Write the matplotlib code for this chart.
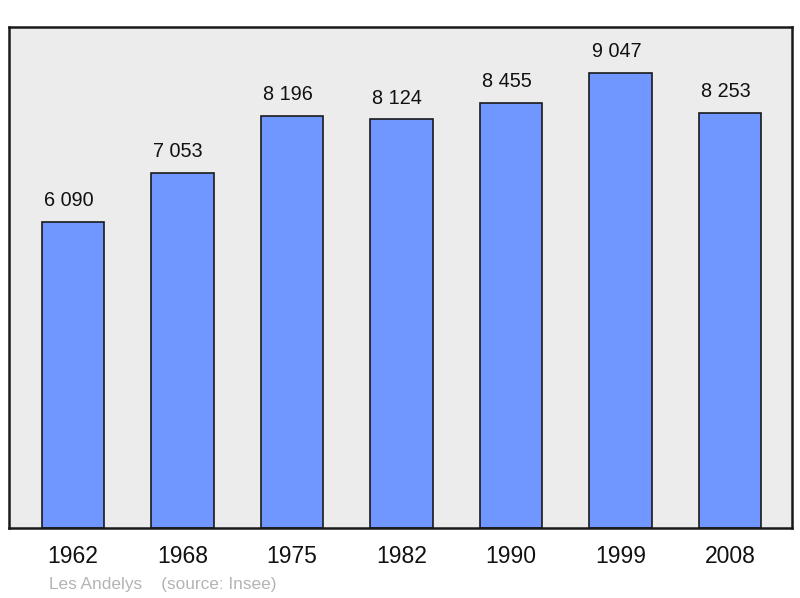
import numpy as np
import matplotlib.pyplot as plt

years = ["1962", "1968", "1975", "1982", "1990", "1999", "2008"]
population = [6090, 7053, 8196, 8124, 8455, 9047, 8253]
value_labels = ["6 090", "7 053", "8 196", "8 124", "8 455", "9 047", "8 253"]

plt.rcParams["font.family"] = ["Liberation Sans", "DejaVu Sans"]

fig = plt.figure(figsize=(8, 5.98), dpi=100)
ax = fig.add_axes([0.01125, 0.1171, 0.97875, 0.8377])
ax.set_facecolor("#ececec")

x = np.arange(len(years))
bars = ax.bar(x, population, width=0.57, color="#7096ff", edgecolor="#1a1a1a",
              linewidth=1.2, zorder=2)

# labels sit a little left of the bar centre, as in the original
for xi, val, lab in zip(x, population, value_labels):
    ax.annotate(lab, (xi, val), xytext=(-3, 8.5), textcoords="offset points",
                ha="center", va="bottom", fontsize=14.3, color="#111111")

ax.set_xlim(-0.584, 6.566)
ax.set_ylim(0, 9960)
ax.set_yticks([])
ax.set_xticks(x)
ax.set_xticklabels(years, fontsize=16.5, color="#111111")
ax.tick_params(axis="x", length=0, pad=12.5)

for s in ax.spines.values():
    s.set_linewidth(1.8)
    s.set_color("#1a1a1a")

fig.text(49 / 800, 1 - 584 / 598, "Les Andelys    (source: Insee)",
         fontsize=12.4, color="#b4b4b4", ha="left", va="center")

fig.savefig("out.png", dpi=100)
